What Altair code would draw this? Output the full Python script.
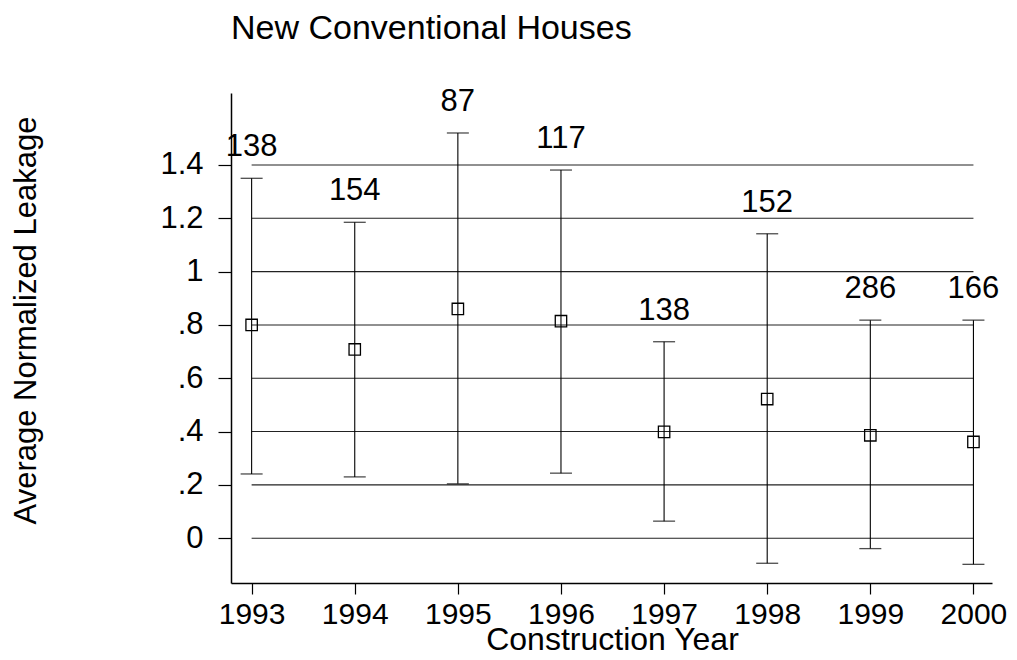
import altair as alt
import pandas as pd

# ---- data ----
years = [1993, 1994, 1995, 1996, 1997, 1998, 1999, 2000]
mean_leak = [0.80, 0.708, 0.860, 0.814, 0.399, 0.522, 0.386, 0.361]
upper_ci = [1.350, 1.185, 1.520, 1.381, 0.737, 1.142, 0.818, 0.818]
lower_ci = [0.241, 0.230, 0.204, 0.244, 0.064, -0.094, -0.039, -0.098]
n_houses = ["138", "154", "87", "117", "138", "152", "286", "166"]

y_ticks = [0, 0.2, 0.4, 0.6, 0.8, 1.0, 1.2, 1.4]
title_text = "New Conventional Houses"
x_title = "Construction Year"
y_title = "Average Normalized Leakage"

FONT = "Liberation Sans, Arial, Helvetica, sans-serif"

df = pd.DataFrame({
    "year": years,
    "mean": mean_leak,
    "upper": upper_ci,
    "lower": lower_ci,
    "n": n_houses,
})
grid_df = pd.DataFrame({
    "y": y_ticks,
    "x0": [years[0]] * len(y_ticks),
    "x1": [years[-1]] * len(y_ticks),
})

x_scale = alt.Scale(domain=[1992.8, 2000.18], nice=False, zero=False)
y_scale = alt.Scale(domain=[-0.168, 1.67], nice=False, zero=False)

x_axis = alt.Axis(
    values=years, format="d", grid=False, title=x_title,
    domainColor="black", domainWidth=1.5, tickColor="black", tickWidth=1.2,
    tickSize=11, labelPadding=5, labelFontSize=30, labelFont=FONT,
    labelColor="black", labelFlush=False, labelOverlap=False,
    titleFontSize=32, titleFont=FONT, titleFontWeight="normal",
    titleColor="black", titleBaseline="alphabetic", titleAlign="center",
    titleX=381, titleY=66,
)
y_axis = alt.Axis(
    values=y_ticks, grid=False, title=y_title,
    labelExpr="datum.value > 0 && datum.value < 1 ? '.' + format(datum.value * 10, 'd') : format(datum.value, '~g')",
    domainColor="black", domainWidth=1.5, tickColor="black", tickWidth=1.2,
    tickSize=13, labelPadding=15, labelFontSize=31, labelFont=FONT,
    labelColor="black", labelFlush=False, labelOverlap=False,
    titleFontSize=31, titleFont=FONT, titleFontWeight="normal",
    titleColor="black", titleAngle=-90, titleAlign="center",
    titleBaseline="alphabetic", titleX=-196, titleY=227,
)

grid = alt.Chart(grid_df).mark_rule(color="#222222", strokeWidth=1.1).encode(
    x=alt.X("x0:Q", scale=x_scale, axis=x_axis),
    x2="x1:Q",
    y=alt.Y("y:Q", scale=y_scale, axis=y_axis),
)

base = alt.Chart(df)

bars = base.mark_rule(color="black", strokeWidth=1.1).encode(
    x=alt.X("year:Q", scale=x_scale),
    y=alt.Y("lower:Q", scale=y_scale),
    y2="upper:Q",
)
cap_hi = base.mark_tick(color="black", orient="horizontal", size=22, thickness=1.3).encode(
    x=alt.X("year:Q", scale=x_scale),
    y=alt.Y("upper:Q", scale=y_scale),
)
cap_lo = base.mark_tick(color="black", orient="horizontal", size=22, thickness=1.3).encode(
    x=alt.X("year:Q", scale=x_scale),
    y=alt.Y("lower:Q", scale=y_scale),
)
points = base.mark_point(shape="square", filled=False, color="black", size=130, strokeWidth=1.3, opacity=1).encode(
    x=alt.X("year:Q", scale=x_scale),
    y=alt.Y("mean:Q", scale=y_scale),
)
labels = base.mark_text(font=FONT, fontSize=31, color="black", baseline="alphabetic", align="center", dy=-22).encode(
    x=alt.X("year:Q", scale=x_scale),
    y=alt.Y("upper:Q", scale=y_scale),
    text="n:N",
)

chart = alt.layer(grid, bars, cap_hi, cap_lo, points, labels).properties(
    width=761,
    height=490,
    background="white",
    title=alt.TitleParams(
        text=title_text, anchor="start", frame="group", font=FONT, fontSize=34,
        fontWeight="normal", color="black", offset=40,
    ),
    autosize=alt.AutoSizeParams(type="none"),
    padding={"left": 223, "top": 85, "right": 16, "bottom": 68},
).configure_view(strokeWidth=0, stroke="transparent")

chart.save("out.html", embed_options={"renderer": "svg", "actions": False})
